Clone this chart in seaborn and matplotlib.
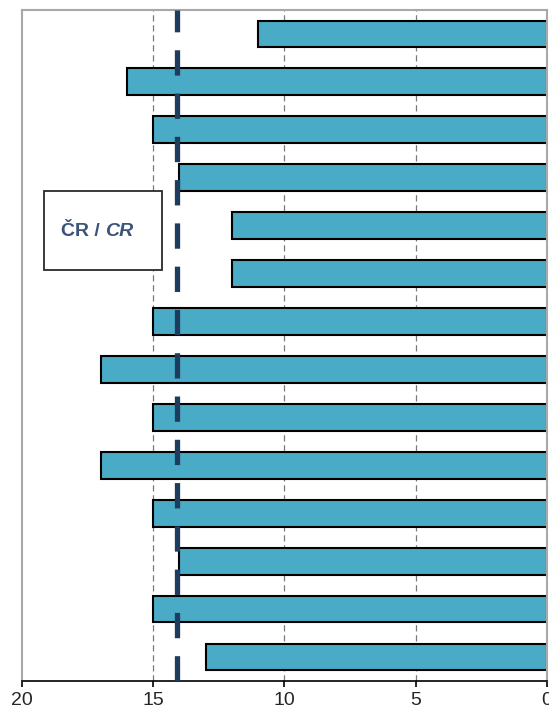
import matplotlib.pyplot as plt
import matplotlib.patches as mpatches
import seaborn as sns

# data
categories = [str(i) for i in range(1, 15)]
values = [11, 16, 15, 14, 12, 12, 15, 17, 15, 17, 15, 14, 15, 13]
cr_value = 14.1
x_ticks = [0, 5, 10, 15, 20]

sns.set_style('white')
plt.rcParams['font.family'] = ['Liberation Sans', 'DejaVu Sans']

fig = plt.figure(figsize=(5.49, 7.13), dpi=100)
ax = fig.add_axes([0.040, 0.045, 0.9564, 0.941])

sns.barplot(x=values, y=categories, orient='h', color='#4aabc6', saturation=1,
            edgecolor='black', linewidth=1.5, width=0.56, ax=ax, zorder=2)

# grid lines
for t in [5, 10, 15]:
    ax.axvline(t, color='#7a7a7a', lw=0.9, dashes=(5, 3), zorder=1)

# CR average line
ax.axvline(cr_value, color='#1e3d5e', lw=3.8, dashes=(4.8, 3.4), zorder=3)

ax.set_xlim(20, 0)
ax.set_ylim(13.5, -0.5)
ax.set_xticks(x_ticks)
ax.set_xticklabels([str(t) for t in x_ticks], fontsize=14)
ax.set_yticks([])
ax.set_xlabel('')
ax.set_ylabel('')
ax.tick_params(axis='x', bottom=True, direction='out', length=4, width=1.2,
               color='black', pad=4)

for s in ['top', 'left', 'right']:
    ax.spines[s].set_color('#a8a8a8')
    ax.spines[s].set_linewidth(1.5)
ax.spines['bottom'].set_color('black')
ax.spines['bottom'].set_linewidth(1.2)

# legend box
box = mpatches.Rectangle((44 / 549, 1 - 270 / 713), 118 / 549, 79 / 713,
                         transform=fig.transFigure, facecolor='white',
                         edgecolor='#2a2a2a', lw=1.3, zorder=5)
fig.patches.append(box)
ty = 1 - 231 / 713
fig.text(105 / 549, ty, 'ČR / ', ha='right', va='center', fontsize=14,
         fontweight='bold', color='#3b5478', zorder=6)
fig.text(105 / 549, ty, 'CR', ha='left', va='center', fontsize=14,
         fontweight='bold', fontstyle='italic', color='#3b5478', zorder=6)

fig.savefig('out.png', dpi=100)
